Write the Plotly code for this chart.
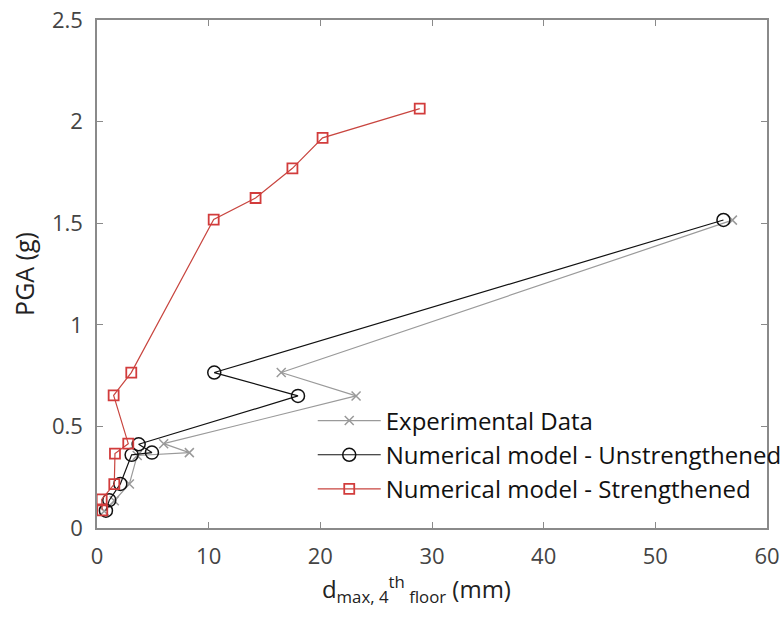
import plotly.graph_objects as go

# Experimental data
exp_d = [0.65, 1.55, 2.9, 3.6, 8.27, 5.97, 23.2, 16.5, 56.9]
exp_pga = [0.083, 0.134, 0.217, 0.357, 0.371, 0.415, 0.65, 0.765, 1.515]

# Numerical model - Unstrengthened
uns_d = [0.8, 1.1, 2.09, 3.1, 4.92, 3.73, 18.0, 10.5, 56.1]
uns_pga = [0.085, 0.137, 0.217, 0.36, 0.371, 0.412, 0.65, 0.765, 1.516]

# Numerical model - Strengthened
str_d = [0.47, 0.42, 1.55, 1.61, 2.8, 1.49, 3.07, 10.45, 14.2, 17.5, 20.2, 28.9]
str_pga = [0.087, 0.141, 0.216, 0.366, 0.415, 0.653, 0.765, 1.518, 1.624, 1.77, 1.92, 2.064]

x_ticks = [0, 10, 20, 30, 40, 50, 60]
y_ticks = [0, 0.5, 1, 1.5, 2, 2.5]
y_tick_labels = ["0", "0.5", "1", "1.5", "2", "2.5"]

FONT = "Open Sans"

fig = go.Figure()
fig.add_trace(go.Scatter(
    x=exp_d, y=exp_pga, mode="lines+markers", name="Experimental Data", cliponaxis=False,
    line=dict(color="#9a9a9a", width=1.2),
    marker=dict(symbol="x-thin", size=9, line=dict(color="#9a9a9a", width=1.5), color="#9a9a9a"),
))
fig.add_trace(go.Scatter(
    x=uns_d, y=uns_pga, mode="lines+markers", name="Numerical model - Unstrengthened", cliponaxis=False,
    line=dict(color="#111111", width=1.2),
    marker=dict(symbol="circle-open", size=13, line=dict(color="#111111", width=1.5), color="#111111"),
))
fig.add_trace(go.Scatter(
    x=str_d, y=str_pga, mode="lines+markers", name="Numerical model - Strengthened", cliponaxis=False,
    line=dict(color="#c8453f", width=1.2),
    marker=dict(symbol="square-open", size=10, line=dict(color="#d23c3c", width=1.8), color="#d23c3c"),
))

axis_common = dict(
    showline=True, linecolor="#8a8a8a", linewidth=1.5, mirror="ticks",
    ticks="inside", ticklen=6, tickcolor="#8a8a8a", tickwidth=1,
    showgrid=False, zeroline=False, automargin=False, ticklabeloverflow="allow",
    tickfont=dict(family=FONT, size=22, color="#444444"),
)

fig.update_xaxes(range=[0, 60], tickvals=x_ticks, ticklabelstandoff=8, **axis_common,
                 title=dict(text="d<sub>max, 4</sub><sup>th</sup><sub> floor</sub> (mm)&nbsp;&nbsp;&nbsp;&nbsp;&nbsp;",
                            font=dict(family=FONT, size=24, color="#222222"), standoff=6))
fig.update_yaxes(range=[0, 2.5], tickvals=y_ticks, ticktext=y_tick_labels, ticklabelstandoff=8,
                 **axis_common,
                 title=dict(text="PGA (g)", font=dict(family=FONT, size=25, color="#222222"), standoff=10))

fig.update_layout(
    width=784, height=619,
    margin=dict(l=97, r=17, t=20, b=91, autoexpand=False),
    paper_bgcolor="white", plot_bgcolor="white",
    showlegend=True,
    legend=dict(x=0.322, y=0.255, xanchor="left", yanchor="top",
                bgcolor="rgba(0,0,0,0)", borderwidth=0,
                font=dict(family=FONT, size=24, color="#111111"),
                itemwidth=63, tracegroupgap=0),
)

# remove the browser's default 8px page margin so the figure fills the window exactly
fig.write_html("out.html", config={"displayModeBar": False},
               post_script="document.body.style.margin='0';document.body.style.overflow='hidden';")
